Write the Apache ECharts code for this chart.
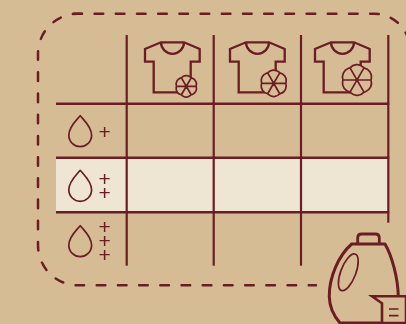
<!DOCTYPE html>
<html>
<head>
<meta charset="utf-8">
<style>
  html, body { margin: 0; padding: 0; background: #d6bc94; }
  #chart { width: 406px; height: 324px; }
</style>
<script src="https://cdn.jsdelivr.net/npm/echarts@6/dist/echarts.min.js"></script>
</head>
<body>
<div id="chart"></div>
<script>
// table content
const fanSizes = [10.3, 12.7, 14.7]        // stain grows per column
const plusCounts = [1, 2, 3]               // detergent dose per row
const highlightRow = 1

// table ruling, in px of the 406x324 picture
const columnLines = [126.7, 213.7, 301, 388.3]
const rowLines = [103.7, 157.7, 212.3]

const INK = '#6b1c24'
const BG = '#d6bc94'
const BAND = '#efe5d3'

const teeOffset = [0, 85, 170]
const fanCenters = [[186.3, 86.3], [273.7, 83.3], [357, 80]]
const dropTops = [115.7, 170.3, 225.7]
const plusRows = [[131.7], [179, 192.7], [226.7, 241, 255.3]]

function line(x1, y1, x2, y2, width, api) {
  const a = api.coord([x1, y1])
  const b = api.coord([x2, y2])
  return {
    type: 'line',
    shape: { x1: a[0], y1: a[1], x2: b[0], y2: b[1] },
    style: { stroke: INK, lineWidth: width, fill: null }
  }
}

function path(d, style) {
  return { type: 'path', shape: { pathData: d }, style: Object.assign({ stroke: INK, fill: 'none', lineJoin: 'miter' }, style) }
}

function fanPath(cx, cy, r) {
  // six lobes between the spokes
  let d = ''
  for (let i = 0; i < 6; i++) {
    const a = i * Math.PI / 3
    const b = (i + 1) * Math.PI / 3
    const x1 = cx + Math.cos(a) * r * 0.95
    const y1 = cy + Math.sin(a) * r * 0.95
    const x2 = cx + Math.cos(b) * r * 0.95
    const y2 = cy + Math.sin(b) * r * 0.95
    if (i === 0) d += 'M' + x1 + ' ' + y1
    d += 'A' + r * 0.62 + ' ' + r * 0.62 + ' 0 0 1 ' + x2 + ' ' + y2
  }
  d += 'Z'
  for (let i = 0; i < 3; i++) {
    const a = i * Math.PI / 3
    d += 'M' + (cx - Math.cos(a) * r * 0.95) + ' ' + (cy - Math.sin(a) * r * 0.95)
    d += 'L' + (cx + Math.cos(a) * r * 0.95) + ' ' + (cy + Math.sin(a) * r * 0.95)
  }
  return d
}

const myChart = echarts.init(document.getElementById('chart'), null, { renderer: 'canvas' })

myChart.setOption({
  backgroundColor: BG,
  animation: false,
  grid: { left: 0, right: 0, top: 0, bottom: 0 },
  xAxis: { type: 'value', min: 0, max: 406, show: false },
  yAxis: { type: 'value', min: 0, max: 324, inverse: true, show: false },
  series: [
    {
      // dashed outline
      type: 'custom',
      silent: true,
      coordinateSystem: 'cartesian2d',
      data: [[0]],
      z: 1,
      renderItem: function () {
        const dash = { lineWidth: 2.5, lineCap: 'round', lineDash: [8.6, 12.6] }
        return {
          type: 'group',
          children: [
            path('M73.4 13.7H374A36 36 0 0 1 410 49.7V70', Object.assign({}, dash)),
            path('M81.4 13.7H78A40 40 0 0 0 38 53.7V245.3A40 40 0 0 0 78 285.3H316', Object.assign({}, dash))
          ]
        }
      }
    },
    {
      // highlighted row
      type: 'custom',
      silent: true,
      data: [[highlightRow]],
      z: 2,
      renderItem: function (params, api) {
        const a = api.coord([56, rowLines[highlightRow]])
        const b = api.coord([columnLines[3], rowLines[highlightRow + 1]])
        return { type: 'rect', shape: { x: a[0], y: a[1], width: b[0] - a[0], height: b[1] - a[1] }, style: { fill: BAND } }
      }
    },
    {
      // table rules
      type: 'custom',
      silent: true,
      data: [[0]],
      z: 3,
      renderItem: function (params, api) {
        const children = []
        rowLines.forEach(function (y) { children.push(line(56, y, 389.3, y, 2.5, api)) })
        columnLines.forEach(function (x, i) {
          children.push(line(x, 35, x, i === 3 ? 222.7 : 265.7, 2.2, api))
        })
        return { type: 'group', children: children }
      }
    },
    {
      // t-shirts with the stain on top
      type: 'custom',
      silent: true,
      data: fanSizes.map(function (s, i) { return [i, s] }),
      z: 4,
      renderItem: function (params, api) {
        const i = api.value(0)
        const r = api.value(1)
        const dx = teeOffset[i]
        const o = api.coord([dx, 0])
        const c = api.coord(fanCenters[i])
        const x = function (v) { return v + o[0] }
        const tee = 'M' + x(161) + ' 42.3H' + x(184) + 'L' + x(199.7) + ' 49V61.7H' + x(190.7) + 'V92.3H' + x(153.7) +
          'V61.7H' + x(145) + 'V49ZM' + x(161) + ' 42.3A11.5 11.5 0 0 0 ' + x(184) + ' 42.3'
        return {
          type: 'group',
          children: [
            path(tee, { lineWidth: 2.3 }),
            path(fanPath(c[0], c[1], r), { lineWidth: 1.7, fill: BG, lineJoin: 'round' })
          ]
        }
      }
    },
    {
      // water drops
      type: 'custom',
      silent: true,
      data: dropTops.map(function (y, i) { return [i, y] }),
      z: 4,
      renderItem: function (params, api) {
        const p = api.coord([80.2, api.value(1)])
        const x = p[0]
        const y = p[1]
        const d = 'M' + x + ' ' + y +
          'C' + (x + 4) + ' ' + (y + 5) + ' ' + (x + 11.4) + ' ' + (y + 11) + ' ' + (x + 11.4) + ' ' + (y + 19.5) +
          'C' + (x + 11.4) + ' ' + (y + 26) + ' ' + (x + 6) + ' ' + (y + 31) + ' ' + x + ' ' + (y + 31) +
          'C' + (x - 6) + ' ' + (y + 31) + ' ' + (x - 11.4) + ' ' + (y + 26) + ' ' + (x - 11.4) + ' ' + (y + 19.5) +
          'C' + (x - 11.4) + ' ' + (y + 11) + ' ' + (x - 4) + ' ' + (y + 5) + ' ' + x + ' ' + y + 'Z'
        return path(d, { lineWidth: 1.7, lineJoin: 'round' })
      }
    },
    {
      // plus signs, one per dose step
      type: 'custom',
      silent: true,
      data: plusCounts.map(function (n, i) { return [i, n] }),
      z: 4,
      renderItem: function (params, api) {
        const row = api.value(0)
        const n = api.value(1)
        const children = []
        for (let k = 0; k < n; k++) {
          const p = api.coord([104.7, plusRows[row][k] + 1.2])
          children.push({
            type: 'text',
            style: {
              x: p[0], y: p[1], text: '+', fill: INK,
              font: '21px "Liberation Sans"', textAlign: 'center', textVerticalAlign: 'middle'
            }
          })
        }
        return { type: 'group', children: children }
      }
    },
    {
      // detergent bottle and cup
      type: 'custom',
      silent: true,
      data: [[0]],
      z: 5,
      renderItem: function () {
        return {
          type: 'group',
          children: [
            path('M351.7 244H385C392 256 398 278 398.3 296.7V323H340C334 316 329.5 308 329.3 296.7C329 278 338 256 351.7 244Z', { lineWidth: 3, fill: BG, lineJoin: 'round' }),
            path('M357.7 244V238Q357.7 234 361.7 234H375.3Q379.3 234 379.3 238V244', { lineWidth: 2.8 }),
            path('M355 254A19.5 7.5 -69 1 1 341.6 290.6A19.5 7.5 -69 1 1 355 254Z', { lineWidth: 1.7 }),
            path('M372 296.2H406V323H382V303.3Z', { lineWidth: 2.6, fill: BG }),
            path('M389 309H398.5M389 315.7H398.5', { lineWidth: 1.7 })
          ]
        }
      }
    }
  ]
})
</script>
</body>
</html>
